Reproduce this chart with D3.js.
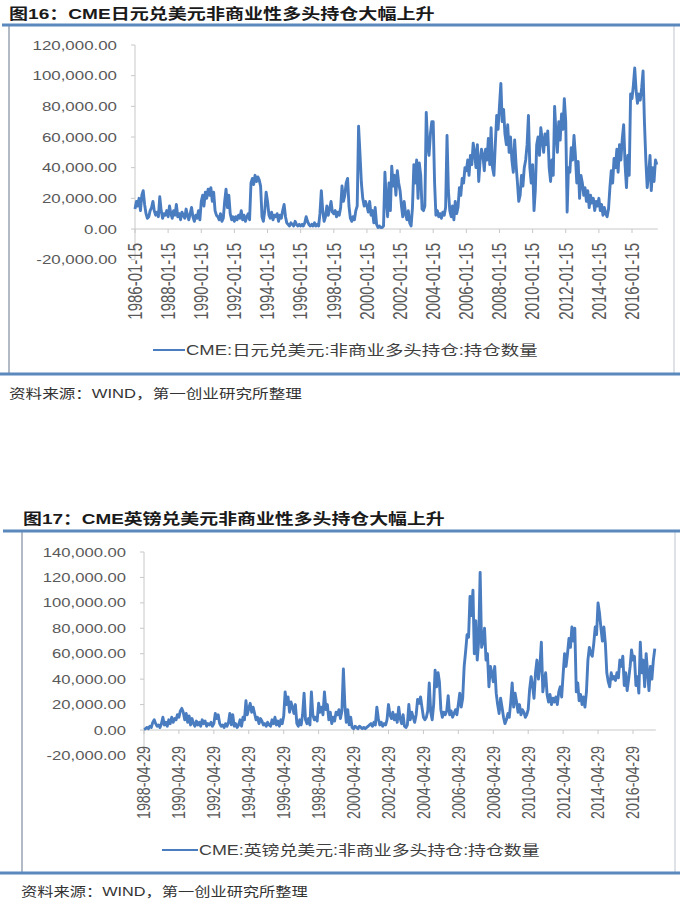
<!DOCTYPE html>
<html><head><meta charset="utf-8">
<script src="https://cdn.jsdelivr.net/npm/d3@7"></script>
<style>body{margin:0;background:#fff}svg{display:block}</style>
</head><body>
<svg id="c" width="680" height="904"></svg>
<script>
// ---------- data ----------
const jpyTitle = "图16：CME日元兑美元非商业性多头持仓大幅上升";
const jpyLegend = "CME:日元兑美元:非商业多头持仓:持仓数量";
const jpyStart = [1986, 0, 15];
// monthly, thousands of contracts
const jpyValuesK = [
 13,18,15,20,12,22,25,16,10,7,8,12,
 14,18,12,9,11,8,21,12,7,10,9,12,
 8,15,10,7,12,9,16,8,10,6,11,9,
 7,13,9,6,10,14,8,5,9,7,12,6,
 18,22,15,24,20,26,22,27,18,24,12,9,
 8,6,10,5,7,18,26,14,22,10,6,8,
 5,8,6,9,7,12,6,9,5,8,10,6,
 30,33,29,35,31,34,32,28,8,5,12,24,
 18,9,7,11,6,9,8,10,5,9,7,12,
 16,8,4,3,2,4,3,2,5,3,2,3,
 2,3,2,4,8,5,3,2,3,2,4,2,
 3,2,10,25,12,5,8,15,9,13,18,11,
 10,12,8,11,9,14,28,18,22,30,33,15,
 7,5,8,6,12,15,67,49,30,20,15,18,
 15,11,18,9,12,4,14,3,1,2,1,1,
 2,37,20,8,30,12,41,28,35,22,38,30,
 25,15,8,18,10,6,12,4,2,14,42,30,
 45,20,43,35,13,12,15,76,55,48,62,70,
 70,30,9,12,8,10,7,11,9,14,61,25,
 12,8,15,6,18,10,14,27,22,33,30,40,
 38,45,35,48,42,56,50,40,55,31,45,52,
 48,38,52,45,59,42,66,40,35,55,74,65,
 80,95,70,78,62,55,68,50,60,45,37,58,
 42,30,18,22,35,28,40,45,55,74,40,30,
 42,12,25,55,60,48,66,58,50,62,55,64,
 40,31,45,35,80,62,50,70,58,75,65,85,
 70,11,40,37,53,45,61,48,30,44,20,35,
 30,22,27,18,25,14,22,17,20,12,18,15,
 20,12,16,9,14,10,8,13,27,38,30,46,
 40,52,37,55,45,59,68,42,27,48,35,88,
 85,94,105,90,82,88,84,92,103,70,45,27,
 35,48,25,40,31,45,42
];
const jpyTickLabels = ["1986-01-15","1988-01-15","1990-01-15","1992-01-15","1994-01-15","1996-01-15","1998-01-15","2000-01-15","2002-01-15","2004-01-15","2006-01-15","2008-01-15","2010-01-15","2012-01-15","2014-01-15","2016-01-15"];
const jpyYTicks = [-20000,0,20000,40000,60000,80000,100000,120000];

const gbpTitle = "图17：CME英镑兑美元非商业性多头持仓大幅上升";
const gbpLegend = "CME:英镑兑美元:非商业多头持仓:持仓数量";
const gbpStart = [1988, 3, 29];
const gbpValuesK = [
 0.5,1,2,1,3,2,6,8,5,
 3,4,2,5,10,4,6,3,8,5,10,6,
 9,8,12,10,15,17,14,8,13,6,11,4,
 9,5,3,7,4,6,3,8,5,7,3,5,
 4,6,3,5,13,9,12,5,3,4,2,5,
 3,6,13,4,12,3,5,2,4,8,3,10,
 8,23,12,17,21,14,18,13,8,10,5,9,
 7,4,5,3,6,4,3,8,5,10,4,7,
 3,8,5,11,30,20,26,14,22,18,13,20,
 5,3,8,4,12,29,8,5,9,4,30,12,
 8,10,7,21,14,18,12,30,16,20,8,14,
 5,10,7,14,12,16,9,15,48,20,6,16,
 4,10,2,1,3,2,1,3,2,1,2,1,
 2,3,4,5,3,6,4,18,9,4,6,3,
 5,4,8,20,12,9,14,8,12,6,18,9,
 5,12,3,2,4,20,8,14,10,6,12,24,
 21,26,18,10,8,10,15,37,14,8,20,47,
 34,45,38,16,10,14,12,15,27,12,15,10,
 13,16,12,20,29,18,25,50,62,75,73,105,
 90,110,60,86,55,70,124,65,70,80,55,60,
 34,50,45,38,50,29,20,13,25,18,10,5,
 8,13,10,22,37,18,29,22,14,20,12,16,
 14,10,12,16,32,42,35,25,45,55,40,50,
 69,30,38,45,28,22,28,20,25,22,26,20,
 30,34,26,44,60,50,60,72,65,81,70,80,
 30,37,23,28,20,26,18,30,55,65,60,58,
 68,81,75,100,92,80,70,81,68,45,38,34,
 45,40,42,39,45,41,55,50,58,35,45,31,
 40,50,63,55,58,35,42,29,69,45,55,34,
 60,45,31,50,40,55,64
];
const gbpTickLabels = ["1988-04-29","1990-04-29","1992-04-29","1994-04-29","1996-04-29","1998-04-29","2000-04-29","2002-04-29","2004-04-29","2006-04-29","2008-04-29","2010-04-29","2012-04-29","2014-04-29","2016-04-29"];
const gbpYTicks = [-20000,0,20000,40000,60000,80000,100000,120000,140000];

const sourceText = "资料来源：WIND，第一创业研究所整理";

// ---------- drawing ----------
const svg = d3.select("#c");
const BLUE = "#4a7cc0";
const RULE = "#5b88bd";
const parseD = d3.timeParse("%Y-%m-%d");
const fmt = d3.formatLocale({decimal: ".", thousands: ",", grouping: [3], currency: ["", ""], minus: "-"}).format(",.2f");

function fitText(sel, x, y, target) {
  const len = sel.node().getComputedTextLength();
  sel.attr("transform", `translate(${x},${y}) scale(${target/len},1)`);
}

function drawChart(L, D) {
  const g = svg.append("g");
  // frame
  g.append("line").attr("x1", L.boxL).attr("x2", L.boxL).attr("y1", L.ruleY).attr("y2", L.bottomY)
    .attr("stroke", "#9fa9b8").attr("stroke-width", 1.6);
  g.append("line").attr("x1", L.boxR).attr("x2", L.boxR).attr("y1", L.ruleY).attr("y2", L.bottomY)
    .attr("stroke", "#c9ced6").attr("stroke-width", 1.2);
  g.append("line").attr("x1", L.ruleX0).attr("x2", 680).attr("y1", L.ruleY).attr("y2", L.ruleY)
    .attr("stroke", RULE).attr("stroke-width", 3);
  g.append("line").attr("x1", 0).attr("x2", 680).attr("y1", L.bottomY).attr("y2", L.bottomY)
    .attr("stroke", RULE).attr("stroke-width", 3);

  // title
  const t = g.append("text").text(D.title)
    .attr("font-family", "'Liberation Sans','Noto Sans CJK SC',sans-serif")
    .attr("font-weight", "bold").attr("font-size", 15).attr("fill", "#1a1a1a");
  fitText(t, L.titleX, L.titleY, L.titleW);

  // scales
  const dates = D.values.map((v, i) => new Date(D.start[0], D.start[1] + i, D.start[2]));
  const x = d3.scaleTime().domain([parseD(D.tickLabels[0]), parseD(D.tickLabels[D.tickLabels.length-1])])
    .range([L.x0, L.x1]);
  const y = d3.scaleLinear().domain([0, D.yTicks[D.yTicks.length-1]]).range([L.y0, L.yTop]);
  const xEnd = x(dates[dates.length-1]);

  // y axis line + ticks
  g.append("line").attr("x1", L.x0).attr("x2", L.x0)
    .attr("y1", y(D.yTicks[D.yTicks.length-1])).attr("y2", y(D.yTicks[0]))
    .attr("stroke", "#c8c8c8").attr("stroke-width", 1);
  D.yTicks.forEach(v => {
    g.append("line").attr("x1", L.x0 - 4).attr("x2", L.x0).attr("y1", y(v)).attr("y2", y(v))
      .attr("stroke", "#c8c8c8");
    g.append("text").text(fmt(v))
      .attr("font-family", "'Liberation Sans',sans-serif").attr("font-size", 13)
      .attr("fill", "#595959").attr("text-anchor", "end").attr("dy", "0.35em")
      .attr("transform", `translate(${L.yLabX},${y(v)}) scale(${L.sx},1)`);
  });
  // x axis line at 0
  g.append("line").attr("x1", L.x0).attr("x2", xEnd + 1).attr("y1", y(0)).attr("y2", y(0))
    .attr("stroke", "#c8c8c8");
  D.tickLabels.forEach(s => {
    const xx = x(parseD(s));
    g.append("line").attr("x1", xx).attr("x2", xx).attr("y1", y(0)).attr("y2", y(0) + 4)
      .attr("stroke", "#c8c8c8");
    g.append("text").text(s)
      .attr("font-family", "'Liberation Sans',sans-serif").attr("font-size", L.xFont)
      .attr("fill", "#595959").attr("text-anchor", "end").attr("dy", "0.35em")
      .attr("transform", `translate(${xx},${L.xLabTop}) scale(${L.sx},1) rotate(-90)`);
  });

  // series line
  const line = d3.line().x((d, i) => x(dates[i])).y(d => y(d * 1000));
  g.append("path").datum(D.values).attr("d", line)
    .attr("fill", "none").attr("stroke", BLUE).attr("stroke-width", 2.9)
    .attr("stroke-linejoin", "round");

  // legend
  g.append("line").attr("x1", L.legX0).attr("x2", L.legX1).attr("y1", L.legY).attr("y2", L.legY)
    .attr("stroke", BLUE).attr("stroke-width", 2);
  const lt = g.append("text").text(D.legend)
    .attr("font-family", "'Liberation Sans','Noto Sans CJK SC',sans-serif")
    .attr("font-size", 14).attr("fill", "#404040").attr("dy", "0.36em");
  fitText(lt, L.legX1 + 1, L.legY, L.legW);

  // source
  const st = g.append("text").text(sourceText)
    .attr("font-family", "'Liberation Sans','Noto Sans CJK SC',sans-serif")
    .attr("font-size", 13).attr("fill", "#333").attr("dy", "0.36em");
  fitText(st, L.srcX, L.srcY, L.srcW);
}

drawChart({
  ruleX0: 2, ruleY: 25, bottomY: 374, boxL: 9, boxR: 674,
  titleX: 9, titleY: 19, titleW: 426,
  x0: 135, x1: 632, y0: 229, yTop: 45, yLabX: 117, sx: 1.3,
  xFont: 15, xLabTop: 243,
  legX0: 153, legX1: 185, legY: 350, legW: 352,
  srcX: 9, srcY: 393, srcW: 293
}, {title: jpyTitle, legend: jpyLegend, start: jpyStart, values: jpyValuesK,
    tickLabels: jpyTickLabels, yTicks: jpyYTicks});

drawChart({
  ruleX0: 3, ruleY: 531, bottomY: 873, boxL: 22, boxR: 675,
  titleX: 23, titleY: 524, titleW: 422,
  x0: 144, x1: 633, y0: 730, yTop: 552, yLabX: 126, sx: 1.28,
  xFont: 14.3, xLabTop: 746,
  legX0: 162, legX1: 198, legY: 850, legW: 341,
  srcX: 21, srcY: 891, srcW: 287
}, {title: gbpTitle, legend: gbpLegend, start: gbpStart, values: gbpValuesK,
    tickLabels: gbpTickLabels, yTicks: gbpYTicks});
</script>
</body></html>
